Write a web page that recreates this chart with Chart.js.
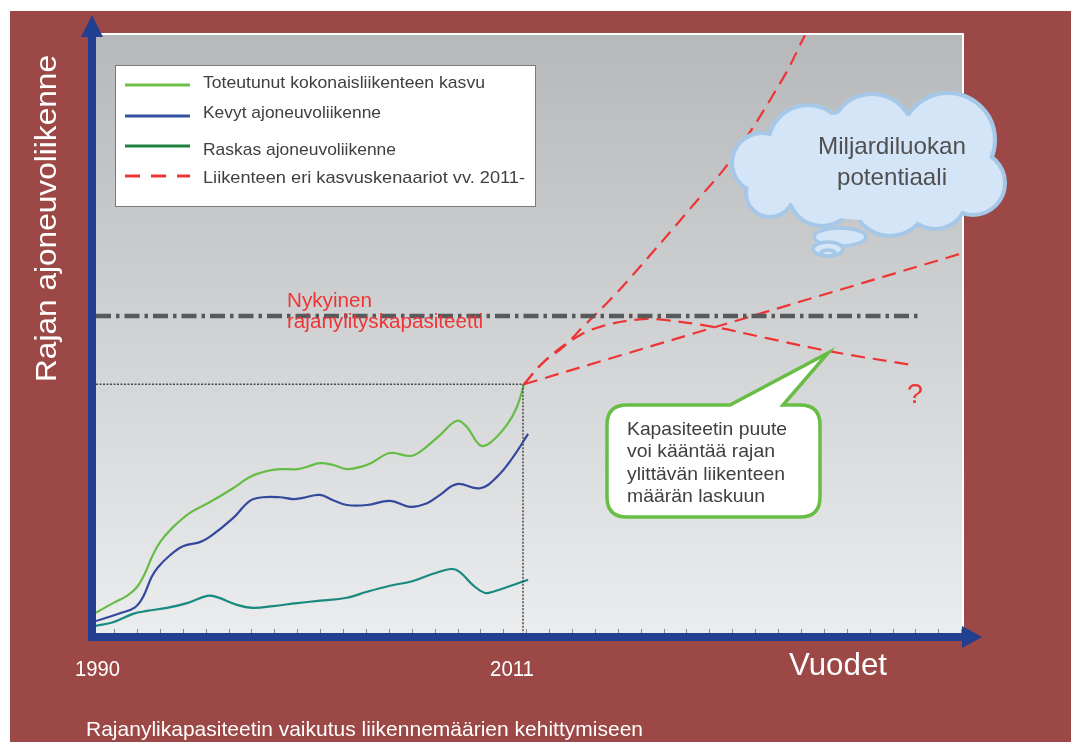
<!DOCTYPE html>
<html><head><meta charset="utf-8">
<script src="https://cdn.jsdelivr.net/npm/chart.js@4.4.1/dist/chart.umd.min.js"></script>
<style>html,body{margin:0;padding:0;background:#fff;overflow:hidden}canvas{display:block}</style>
</head><body><canvas id="c" width="1071" height="742"></canvas>
<script>
// ---------- DATA ----------
const xAxisTickLabels = ['1990', '2011'];
const xAxisTitle = 'Vuodet';
const yAxisTitle = 'Rajan ajoneuvoliikenne';
const caption = 'Rajanylikapasiteetin vaikutus liikennemäärien kehittymiseen';
const legendLabels = ['Toteutunut kokonaisliikenteen kasvu', 'Kevyt ajoneuvoliikenne', 'Raskas ajoneuvoliikenne', 'Liikenteen eri kasvuskenaariot vv. 2011-'];

const totalYears  = [1990.0, 1990.84, 1991.52, 1992.02, 1992.41, 1992.75, 1993.15, 1993.79, 1994.62, 1995.61, 1996.74, 1997.57, 1998.41, 1999.05, 1999.89, 2000.38, 2001.02, 2001.66, 2002.34, 2003.13, 2003.62, 2004.46, 2005.44, 2005.93, 2006.92, 2007.75, 2008.25, 2008.89, 2009.38, 2010.21, 2010.7, 2011.05];
const totalValues = [3.4, 5.0, 6.2, 7.7, 10.0, 12.7, 15.2, 17.7, 20.1, 21.9, 24.2, 26.1, 27.1, 27.4, 27.4, 27.8, 28.4, 28.1, 27.4, 27.9, 28.6, 30.1, 29.6, 30.3, 33.1, 35.5, 34.4, 31.4, 31.8, 34.8, 37.8, 41.6];

const lightYears  = [1990.0, 1991.18, 1991.92, 1992.31, 1992.74, 1993.05, 1993.64, 1994.28, 1995.11, 1995.61, 1996.74, 1997.57, 1998.21, 1999.05, 1999.69, 2000.18, 2001.02, 2001.66, 2002.34, 2003.33, 2004.46, 2005.44, 2006.28, 2006.92, 2007.75, 2008.89, 2009.72, 2010.51, 2011.25];
const lightValues = [2.0, 3.3, 4.3, 6.0, 9.4, 11.0, 13.0, 14.5, 15.2, 16.1, 19.2, 22.1, 22.7, 22.7, 22.4, 22.6, 23.1, 22.2, 21.4, 21.4, 22.1, 21.1, 21.7, 23.1, 24.9, 24.2, 26.1, 29.4, 33.3];

const heavyYears  = [1990.0, 1990.84, 1991.82, 1992.51, 1993.49, 1994.48, 1995.46, 1995.95, 1996.93, 1997.72, 1998.71, 1999.89, 2001.02, 2002.34, 2003.33, 2004.46, 2005.59, 2006.57, 2007.51, 2007.9, 2008.54, 2009.13, 2009.52, 2011.25];
const heavyValues = [1.2, 1.8, 3.2, 3.7, 4.2, 5.0, 6.2, 6.0, 4.7, 4.2, 4.5, 5.0, 5.4, 5.9, 6.9, 7.9, 8.7, 9.9, 10.7, 10.2, 8.0, 6.7, 6.9, 8.9];

const highScenarioYears  = [2011.05, 2011.98, 2012.97, 2013.95, 2015.13, 2016.02, 2019.71, 2021.33, 2023.74, 2024.87];
const highScenarioValues = [41.6, 45.2, 47.8, 51.2, 55.2, 58.4, 72.9, 79.6, 92.5, 100];

const capScenarioYears  = [2011.05, 2011.98, 2013.41, 2014.79, 2016.9, 2018.08, 2020.35, 2023.0, 2026.25, 2030.18];
const capScenarioValues = [41.6, 45.2, 49.0, 51.2, 52.5, 52.3, 51.2, 49.3, 47.0, 44.8];

const linScenarioYears  = [2011.05, 2032.59];
const linScenarioValues = [41.6, 63.5];

const capacityYears  = [1990, 2030.5];
const capacityValues = [53.0, 53.0];

const refYear = 2011.0;
const refValue = 41.6;

const yearMin = 1990, yearMax = 2032.59;
const valueMin = 0, valueMax = 100;

// ---------- helpers ----------
const FONT = "'Liberation Sans', Arial, sans-serif";
const pts = (xs, ys) => xs.map((x, i) => ({x: x, y: ys[i]}));

function fitText(ctx, text, x, y, size, width, color, align, baseline) {
  ctx.save();
  ctx.font = size + 'px ' + FONT;
  ctx.fillStyle = color;
  ctx.textBaseline = baseline || 'middle';
  ctx.textAlign = 'left';
  const w = ctx.measureText(text).width;
  const sx = width ? width / w : 1;
  let x0 = x;
  if (align === 'center') x0 = x - (w * sx) / 2;
  ctx.translate(x0, y);
  ctx.scale(sx, 1);
  ctx.fillText(text, 0, 0);
  ctx.restore();
}

const RED = '#ee3535';
const AXIS = '#233f8f';

const bgPlugin = {
  id: 'bg',
  beforeDraw(chart) {
    const {ctx, chartArea: a, width: W, height: H} = chart;
    ctx.save();
    ctx.fillStyle = '#ffffff'; ctx.fillRect(0, 0, W, H);
    ctx.fillStyle = '#9b4846'; ctx.fillRect(10, 11, W - 10, H - 11);
    ctx.fillStyle = '#ffffff';
    ctx.fillRect(a.left - 2, a.top - 2, a.right - a.left + 4, a.bottom - a.top + 2);
    const g = ctx.createLinearGradient(0, a.top, 0, a.bottom);
    g.addColorStop(0, '#b7b8ba'); g.addColorStop(1, '#ebecee');
    ctx.fillStyle = g; ctx.fillRect(a.left, a.top, a.right - a.left, a.bottom - a.top);
    ctx.restore();
  }
};

const decoPlugin = {
  id: 'deco',
  afterDatasetsDraw(chart) {
    const {ctx, chartArea: a, scales} = chart;
    const xs = scales.x;
    ctx.save();
    // small ticks on the x axis
    ctx.strokeStyle = '#8a8a8a'; ctx.lineWidth = 1;
    for (let t = 1990.89; t < yearMax; t += 1.126) {
      const px = Math.round(xs.getPixelForValue(t)) + 0.5;
      ctx.beginPath(); ctx.moveTo(px, a.bottom - 4); ctx.lineTo(px, a.bottom); ctx.stroke();
    }
    // axes
    ctx.fillStyle = AXIS;
    ctx.fillRect(a.left - 8, 36, 8, a.bottom + 8 - 36);
    ctx.beginPath(); ctx.moveTo(92, 15); ctx.lineTo(81, 37); ctx.lineTo(103, 37); ctx.closePath(); ctx.fill();
    ctx.fillRect(a.left - 8, a.bottom, 962 - (a.left - 8), 8);
    ctx.beginPath(); ctx.moveTo(982, 637); ctx.lineTo(962, 626); ctx.lineTo(962, 648); ctx.closePath(); ctx.fill();

    // axis texts (narrow look)
    fitText(ctx, xAxisTickLabels[0], 75, 676, 22, 45, '#ffffff', 'left', 'alphabetic');
    fitText(ctx, xAxisTickLabels[1], 490, 676, 22, 44, '#ffffff', 'left', 'alphabetic');
    fitText(ctx, xAxisTitle, 789, 675, 32, 98, '#ffffff', 'left', 'alphabetic');
    fitText(ctx, caption, 86, 736, 21, 557, '#ffffff', 'left', 'alphabetic');
    ctx.save();
    ctx.translate(56, 382); ctx.rotate(-Math.PI / 2);
    fitText(ctx, yAxisTitle, 0, 0, 29, 327, '#ffffff', 'left', 'alphabetic');
    ctx.restore();

    // capacity label
    fitText(ctx, 'Nykyinen', 287, 307, 20, 85, RED, 'left', 'alphabetic');
    fitText(ctx, 'rajanylityskapasiteetti', 287, 328, 20, 196, RED, 'left', 'alphabetic');
    fitText(ctx, '?', 907, 403, 28, 16, RED, 'left', 'alphabetic');

    // legend
    ctx.fillStyle = '#ffffff'; ctx.fillRect(115.5, 65.5, 420, 141);
    ctx.strokeStyle = '#7a7a7a'; ctx.lineWidth = 1; ctx.strokeRect(115.5, 65.5, 420, 141);
    const legColors = ['#6cc04a', '#3450a0', '#1f8040', RED];
    const legY = [85, 116, 146, 176];
    const textY = [83, 113, 150, 178];
    const textW = [282, 178, 193, 322];
    legendLabels.forEach((lab, i) => {
      ctx.strokeStyle = legColors[i]; ctx.lineWidth = 3.2;
      ctx.setLineDash(i === 3 ? [15, 11] : []);
      ctx.beginPath(); ctx.moveTo(125, legY[i]); ctx.lineTo(190, legY[i]); ctx.stroke();
      ctx.setLineDash([]);
      fitText(ctx, lab, 203, textY[i], 17, textW[i], '#404040', 'left', 'middle');
    });

    // cloud
    const circles = [[762,163,28],[770,193,22],[808,145,38],[872,136,40],[948,140,45],[973,183,30],[935,197,30],[890,198,36],[822,192,32]];
    const cFill = '#d3e5f6', cLine = '#a5c8e8';
    ctx.strokeStyle = cLine; ctx.lineWidth = 8;
    circles.forEach(c => { ctx.beginPath(); ctx.arc(c[0], c[1], c[2], 0, Math.PI * 2); ctx.stroke(); });
    ctx.fillStyle = cFill;
    circles.forEach(c => { ctx.beginPath(); ctx.arc(c[0], c[1], c[2], 0, Math.PI * 2); ctx.fill(); });
    ctx.beginPath(); ctx.ellipse(868, 166, 106, 54, 0, 0, Math.PI * 2); ctx.fill();
    ctx.lineWidth = 3.5;
    [[840,237,26,9],[828,249,15,7],[828,253,7,3]].forEach(e => {
      ctx.beginPath(); ctx.ellipse(e[0], e[1], e[2], e[3], 0, 0, Math.PI * 2);
      ctx.fillStyle = cFill; ctx.fill(); ctx.strokeStyle = cLine; ctx.stroke();
    });
    fitText(ctx, 'Miljardiluokan', 892, 147, 24, 148, '#505050', 'center', 'middle');
    fitText(ctx, 'potentiaali', 892, 178, 24, 110, '#505050', 'center', 'middle');

    // callout
    const L = 607, R = 820, T = 405, B = 517, r = 20;
    ctx.beginPath();
    ctx.moveTo(L + r, T);
    ctx.lineTo(730, T); ctx.lineTo(828, 353); ctx.lineTo(783, T);
    ctx.lineTo(R - r, T); ctx.quadraticCurveTo(R, T, R, T + r);
    ctx.lineTo(R, B - r); ctx.quadraticCurveTo(R, B, R - r, B);
    ctx.lineTo(L + r, B); ctx.quadraticCurveTo(L, B, L, B - r);
    ctx.lineTo(L, T + r); ctx.quadraticCurveTo(L, T, L + r, T);
    ctx.closePath();
    ctx.fillStyle = '#ffffff'; ctx.fill();
    ctx.strokeStyle = '#68bd45'; ctx.lineWidth = 3.5; ctx.lineJoin = 'miter'; ctx.stroke();
    const cl = ['Kapasiteetin puute', 'voi kääntää rajan', 'ylittävän liikenteen', 'määrän laskuun'];
    const cw = [160, 148, 158, 138];
    const cy = [430, 452, 475, 497];
    cl.forEach((s, i) => fitText(ctx, s, 627, cy[i], 18.5, cw[i], '#404040', 'left', 'middle'));
    ctx.restore();
  }
};

new Chart(document.getElementById('c'), {
  type: 'line',
  data: {
    datasets: [
      { data: [{x: yearMin, y: refValue}, {x: refYear, y: refValue}], borderColor: '#4a4a4a', borderWidth: 1.5, borderDash: [2, 1.5], tension: 0 },
      { data: [{x: refYear, y: refValue}, {x: refYear, y: -1.2}], borderColor: '#4a4a4a', borderWidth: 1.5, borderDash: [2, 1.5], tension: 0, clip: false },
      { data: pts(capacityYears, capacityValues), borderColor: '#58595b', borderWidth: 4.5, borderDash: [15, 5, 3.5, 5], tension: 0 },
      { data: pts(linScenarioYears, linScenarioValues), borderColor: RED, borderWidth: 2.2, borderDash: [14, 8], tension: 0 },
      { data: pts(capScenarioYears, capScenarioValues), borderColor: RED, borderWidth: 2.2, borderDash: [14, 8], tension: 0.4 },
      { data: pts(highScenarioYears, highScenarioValues), borderColor: RED, borderWidth: 2.2, borderDash: [14, 8], tension: 0.4 },
      { label: legendLabels[2], data: pts(heavyYears, heavyValues), borderColor: '#198a80', borderWidth: 2.2, tension: 0.4 },
      { label: legendLabels[1], data: pts(lightYears, lightValues), borderColor: '#34499e', borderWidth: 2.2, tension: 0.4 },
      { label: legendLabels[0], data: pts(totalYears, totalValues), borderColor: '#66bd45', borderWidth: 2.2, tension: 0.4 }
    ]
  },
  options: {
    responsive: false,
    animation: false,
    events: [],
    layout: { padding: { left: 96, right: 109, top: 35, bottom: 109 } },
    elements: { point: { radius: 0 }, line: { fill: false, borderCapStyle: 'butt' } },
    scales: {
      x: { type: 'linear', min: yearMin, max: yearMax, display: false },
      y: { type: 'linear', min: valueMin, max: valueMax, display: false }
    },
    plugins: { legend: { display: false }, tooltip: { enabled: false } }
  },
  plugins: [bgPlugin, decoPlugin]
});
</script>
</body></html>
